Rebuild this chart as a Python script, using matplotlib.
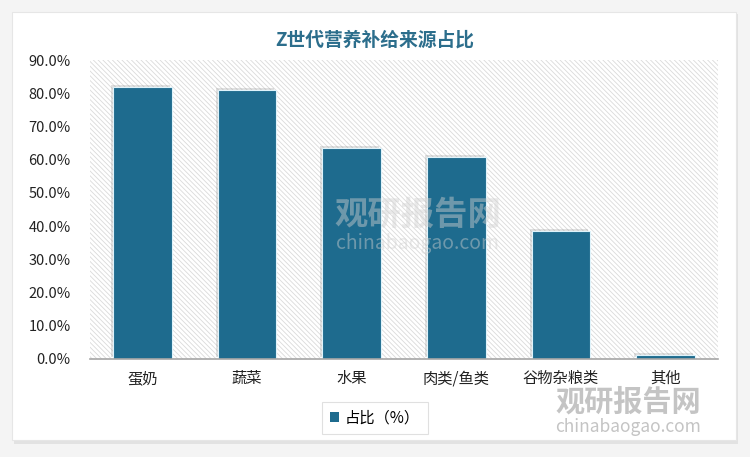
import matplotlib
matplotlib.use("Agg")
import matplotlib.pyplot as plt
from matplotlib.patches import Rectangle, FancyBboxPatch, Patch
import matplotlib.patheffects as pe

plt.rcParams['font.family'] = ['Noto Sans CJK SC', 'DejaVu Sans']
plt.rcParams['hatch.color'] = '#dadada'
plt.rcParams['hatch.linewidth'] = 0.6

categories = ['蛋奶', '蔬菜', '水果', '肉类/鱼类', '谷物杂粮类', '其他']
values = [81.9, 81.0, 63.5, 60.8, 38.6, 1.1]
yticks = [0, 10, 20, 30, 40, 50, 60, 70, 80, 90]
title = 'Z世代营养补给来源占比'
legend_label = '占比（%）'

W, H = 750, 457
fig = plt.figure(figsize=(W / 100, H / 100), dpi=100)
fig.patch.set_facecolor('#f4f4f4')

# white card with soft shadow
shadow = FancyBboxPatch((14 / W, 1 - 444 / H), 724 / W, 430 / H,
                        boxstyle='square,pad=0', transform=fig.transFigure,
                        facecolor='#e2e2e2', edgecolor='none', zorder=-2)
card = FancyBboxPatch((12 / W, 1 - 440 / H), 724 / W, 428 / H,
                      boxstyle='square,pad=0', transform=fig.transFigure,
                      facecolor='white', edgecolor='#e6e6e6', linewidth=0.8, zorder=-1)
fig.patches.extend([shadow, card])

ax = fig.add_axes([90 / W, 1 - 359 / H, 628 / W, 299 / H])
ax.set_zorder(1)
ax.set_facecolor('none')
ax.set_xlim(-0.5, len(categories) - 0.5)
ax.set_ylim(0, 90)

# hatched background in plot area
bg = Rectangle((0, 0), 1, 1, transform=ax.transAxes, facecolor='none',
               edgecolor='#dadada', hatch='\\' * 7, linewidth=0, zorder=0)
ax.add_patch(bg)

x = list(range(len(categories)))
ax.bar(x, values, width=0.56, color='#1e6b8e', edgecolor='#dff3fb', linewidth=0.8,
       zorder=3,
       path_effects=[pe.SimplePatchShadow(offset=(-1.5, 1.5), shadow_rgbFace='#8a8a8a', alpha=0.25), pe.Normal()])

# faint central watermark over plot
ax.text(0.522, 0.48, '观研报告网', transform=ax.transAxes, ha='center', va='center',
        fontsize=24, fontweight='bold', color='#d0d0d0', alpha=0.45, zorder=4)
ax.text(0.522, 0.385, 'chinabaogao.com', transform=ax.transAxes, ha='center', va='center',
        fontsize=14, color='#d0d0d0', alpha=0.45, zorder=4)

ax.set_yticks(yticks)
ax.set_yticklabels([f'{v:.1f}%' for v in yticks], fontsize=10.5, color='#222222')
ax.set_xticks(x)
ax.set_xticklabels(categories, fontsize=11, color='#222222')
ax.tick_params(axis='both', length=0)
ax.tick_params(axis='y', pad=14)
ax.tick_params(axis='x', pad=8)
for s in ['top', 'right', 'left']:
    ax.spines[s].set_visible(False)
ax.spines['bottom'].set_color('#a6a6a6')
ax.spines['bottom'].set_linewidth(1.2)
ax.spines['bottom'].set_zorder(4)

fig.text(375 / W, 1 - 40 / H, title, ha='center', va='center', fontsize=13.5,
         fontweight='bold', color='#2c6e8c')

handle = Patch(facecolor='#1e6b8e', edgecolor='none', label=legend_label)
leg = fig.legend(handles=[handle], loc='center', bbox_to_anchor=(375 / W, 1 - 418 / H),
                 fontsize=11, frameon=True, fancybox=False, edgecolor='#d9d9d9',
                 handlelength=0.6, handleheight=0.6, handletextpad=0.4,
                 borderpad=0.5)
leg.get_frame().set_linewidth(0.8)
leg.set_zorder(5)

# bottom-right watermark
fig.text(628 / W, 1 - 402 / H, '观研报告网', ha='center', va='center', fontsize=21,
         fontweight='bold', color='#c4c4c4', zorder=10)
fig.text(628 / W, 1 - 427 / H, 'chinabaogao.com', ha='center', va='center', fontsize=12.5,
         color='#c4c4c4', zorder=10)

fig.savefig('out.png', dpi=100)
